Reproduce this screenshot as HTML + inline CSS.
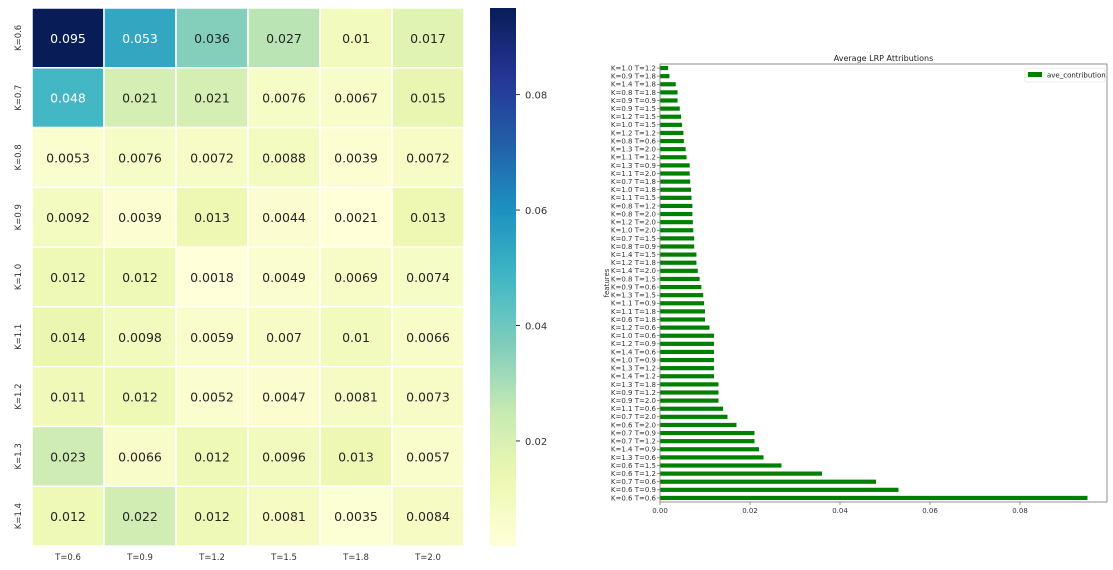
<!DOCTYPE html>
<html><head><meta charset="utf-8"><style>
body{margin:0;background:#fff;}
svg{display:block;font-family:"DejaVu Sans","Liberation Sans",sans-serif;}
</style></head><body>
<svg id="s" width="1113" height="570"></svg>
<script>
const kLabels=["K=0.6","K=0.7","K=0.8","K=0.9","K=1.0","K=1.1","K=1.2","K=1.3","K=1.4"];
const tLabels=["T=0.6","T=0.9","T=1.2","T=1.5","T=1.8","T=2.0"];
const heat=[
[0.095,0.053,0.036,0.027,0.01,0.017],
[0.048,0.021,0.021,0.0076,0.0067,0.015],
[0.0053,0.0076,0.0072,0.0088,0.0039,0.0072],
[0.0092,0.0039,0.013,0.0044,0.0021,0.013],
[0.012,0.012,0.0018,0.0049,0.0069,0.0074],
[0.014,0.0098,0.0059,0.007,0.01,0.0066],
[0.011,0.012,0.0052,0.0047,0.0081,0.0073],
[0.023,0.0066,0.012,0.0096,0.013,0.0057],
[0.012,0.022,0.012,0.0081,0.0035,0.0084]];
const cbTicks=[0.02,0.04,0.06,0.08];
const barLabels=["K=1.0 T=1.2","K=0.9 T=1.8","K=1.4 T=1.8","K=0.8 T=1.8","K=0.9 T=0.9","K=0.9 T=1.5","K=1.2 T=1.5","K=1.0 T=1.5","K=1.2 T=1.2","K=0.8 T=0.6","K=1.3 T=2.0","K=1.1 T=1.2","K=1.3 T=0.9","K=1.1 T=2.0","K=0.7 T=1.8","K=1.0 T=1.8","K=1.1 T=1.5","K=0.8 T=1.2","K=0.8 T=2.0","K=1.2 T=2.0","K=1.0 T=2.0","K=0.7 T=1.5","K=0.8 T=0.9","K=1.4 T=1.5","K=1.2 T=1.8","K=1.4 T=2.0","K=0.8 T=1.5","K=0.9 T=0.6","K=1.3 T=1.5","K=1.1 T=0.9","K=1.1 T=1.8","K=0.6 T=1.8","K=1.2 T=0.6","K=1.0 T=0.6","K=1.2 T=0.9","K=1.4 T=0.6","K=1.0 T=0.9","K=1.3 T=1.2","K=1.4 T=1.2","K=1.3 T=1.8","K=0.9 T=1.2","K=0.9 T=2.0","K=1.1 T=0.6","K=0.7 T=2.0","K=0.6 T=2.0","K=0.7 T=0.9","K=0.7 T=1.2","K=1.4 T=0.9","K=1.3 T=0.6","K=0.6 T=1.5","K=0.6 T=1.2","K=0.7 T=0.6","K=0.6 T=0.9","K=0.6 T=0.6"];
const barValues=[0.0018,0.0021,0.0035,0.0039,0.0039,0.0044,0.0047,0.0049,0.0052,0.0053,0.0057,0.0059,0.0066,0.0066,0.0067,0.0069,0.007,0.0072,0.0072,0.0073,0.0074,0.0076,0.0076,0.0081,0.0081,0.0084,0.0088,0.0092,0.0096,0.0098,0.01,0.01,0.011,0.012,0.012,0.012,0.012,0.012,0.012,0.013,0.013,0.013,0.014,0.015,0.017,0.021,0.021,0.022,0.023,0.027,0.036,0.048,0.053,0.095];
const xTicks=[0,0.02,0.04,0.06,0.08];

const S=document.getElementById('s');const NS="http://www.w3.org/2000/svg";
function mk(t,a,txt){const e=document.createElementNS(NS,t);for(const k in a)e.setAttribute(k,a[k]);if(txt!=null)e.textContent=txt;S.appendChild(e);return e;}
const stops=["#ffffd9","#edf8b1","#c7e9b4","#7fcdbb","#41b6c4","#1d91c0","#225ea8","#253494","#081d58"].map(h=>[1,3,5].map(i=>parseInt(h.substr(i,2),16)));
let vmin=Infinity,vmax=-Infinity;heat.forEach(r=>r.forEach(v=>{vmin=Math.min(vmin,v);vmax=Math.max(vmax,v);}));
function cmap(t){t=Math.max(0,Math.min(1,t))*8;const i=Math.min(7,Math.floor(t)),f=t-i;const c=stops[i].map((v,j)=>v+(stops[i+1][j]-v)*f);return c;}
const hx0=32,hy0=8,cw=72,ch=(546-8)/9;
heat.forEach((row,r)=>row.forEach((v,c)=>{
 const col=cmap((v-vmin)/(vmax-vmin));
 let e=mk('rect',{x:hx0+c*cw,y:hy0+r*ch,width:cw,height:ch,fill:`rgb(${col.map(Math.round)})`,stroke:'#fff','stroke-width':1.5});
 
 
 const lum=0.299*col[0]+0.587*col[1]+0.114*col[2];
 e=mk('text',{x:hx0+c*cw+cw/2,y:hy0+r*ch+ch/2+5,'text-anchor':'middle','font-size':12.5,fill:lum<150?'#fff':'#262626'},String(v));
 
 
}));
tLabels.forEach((t,c)=>{const e=mk('text',{x:hx0+c*cw+cw/2,y:560,'text-anchor':'middle','font-size':8.5,fill:'#333'},t);
 });
kLabels.forEach((k,r)=>{const y=hy0+r*ch+ch/2;const e=mk('text',{x:21,y:y,'text-anchor':'middle','font-size':8.5,fill:'#333',transform:`rotate(-90 21 ${y})`},k);
 });
const cbx=490,cbw=26,cbTop=8,cbBot=546;
const defs=mk('defs',{});const g=document.createElementNS(NS,'linearGradient');g.setAttribute('id','cb');g.setAttribute('x1',0);g.setAttribute('y1',1);g.setAttribute('x2',0);g.setAttribute('y2',0);defs.appendChild(g);
for(let i=0;i<=16;i++){const st=document.createElementNS(NS,'stop');st.setAttribute('offset',i/16);st.setAttribute('stop-color',`rgb(${cmap(i/16).map(Math.round)})`);g.appendChild(st);}
let cb=mk('rect',{x:cbx,y:cbTop,width:cbw,height:cbBot-cbTop,fill:'url(#cb)'});

const cy=v=>cbBot-(v-vmin)/(vmax-vmin)*(cbBot-cbTop);
cbTicks.forEach(v=>{mk('line',{x1:cbx+cbw,x2:cbx+cbw+4,y1:cy(v),y2:cy(v),stroke:'#333'});
 const e=mk('text',{x:cbx+cbw+9,y:cy(v)+4,'font-size':10,fill:'#333'},v.toFixed(2));
 });
const ax0=660,ax1=1107,ay0=64,ay1=502;
const X=v=>ax0+v*4500;
const bw=(ay1-ay0)/barLabels.length;
let e=mk('text',{x:(ax0+ax1)/2,y:61,'text-anchor':'middle','font-size':8,fill:'#222'},'Average LRP Attributions');

barValues.forEach((v,i)=>{const yc=ay0+i*bw+bw/2;
 const b=mk('rect',{x:ax0,y:yc-2.1,width:X(v)-ax0,height:4.2,fill:'#008000'});
 
 mk('line',{x1:ax0-3,x2:ax0,y1:yc,y2:yc,stroke:'#555','stroke-width':0.6});
 const t=mk('text',{x:ax0-4,y:yc+2.4,'text-anchor':'end','font-size':7,fill:'#333'},barLabels[i]);
 });
e=mk('rect',{x:ax0,y:ay0,width:ax1-ax0,height:ay1-ay0,fill:'none',stroke:'#777','stroke-width':0.8});

xTicks.forEach(v=>{mk('line',{x1:X(v),x2:X(v),y1:ay1,y2:ay1+3,stroke:'#555','stroke-width':0.6});
 const t=mk('text',{x:X(v),y:ay1+11,'text-anchor':'middle','font-size':7,fill:'#333'},v.toFixed(2));
 });
e=mk('text',{x:609,y:283,'text-anchor':'middle','font-size':7,fill:'#333',transform:'rotate(-90 609 283)'},'features');

e=mk('rect',{x:1025,y:68,width:80,height:14,fill:'#fff',stroke:'#ddd','stroke-width':0.6,rx:1.5});

mk('rect',{x:1028,y:72,width:14,height:5,fill:'#008000'});
e=mk('text',{x:1047,y:77.5,'font-size':7,fill:'#222'},'ave_contribution');

</script>
</body></html>
